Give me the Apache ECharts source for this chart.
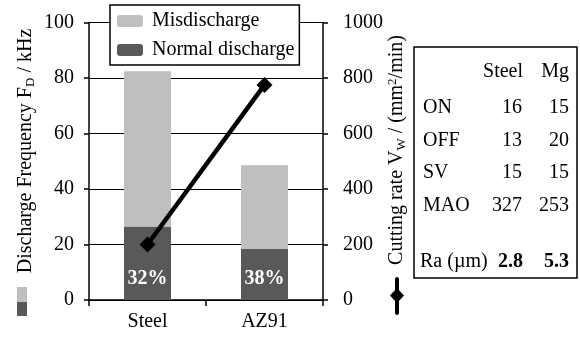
<!DOCTYPE html>
<html>
<head>
<meta charset="utf-8">
<script src="https://cdn.jsdelivr.net/npm/echarts@6/dist/echarts.min.js"></script>
<style>
html,body{margin:0;padding:0;background:#fff;}
#chart{width:580px;height:338px;}
</style>
</head>
<body>
<div id="chart"></div>
<script>
var categories = ['Steel', 'AZ91'];
var normalDischarge = [26.5, 18.4];
var misDischarge = [55.9, 30.2];
var cuttingRate = [200, 775];
var leftTicks = {min: 0, max: 100, interval: 20};
var rightTicks = {min: 0, max: 1000, interval: 200};

// parameter table (right side)
var tableHeader = ['Steel', 'Mg'];
var tableRows = ['ON', 'OFF', 'SV', 'MAO'];
var tableSteel = [16, 13, 15, 327];
var tableMg = [15, 20, 15, 253];
var raSteel = '2.8';
var raMg = '5.3';

var FONT = '"Liberation Serif", "DejaVu Serif", serif';
var FS = 20;
var LIGHT = '#bfbfbf';
var DARK = '#595959';

var myChart = echarts.init(document.getElementById('chart'));

var graphics = [];
// left axis title
graphics.push({
    type: 'text',
    x: 26, y: 151,
    rotation: Math.PI / 2,
    style: {
        text: '{a|Discharge Frequency F}{s|D}{a| / kHz}',
        align: 'center', verticalAlign: 'middle',
        rich: {
            a: {fontFamily: FONT, fontSize: FS, fill: '#000'},
            s: {fontFamily: FONT, fontSize: 13, fill: '#000', padding: [10, 0, 0, 0]}
        }
    }
});
graphics.push({type: 'rect', shape: {x: 17, y: 287, width: 10, height: 15}, style: {fill: LIGHT}});
graphics.push({type: 'rect', shape: {x: 17, y: 302, width: 10, height: 14}, style: {fill: DARK}});

// right axis title
graphics.push({
    type: 'text',
    x: 397, y: 150,
    rotation: Math.PI / 2,
    style: {
        text: '{a|Cutting rate V}{s|W}{a| / (mm}{p|2}{a|/min)}',
        align: 'center', verticalAlign: 'middle',
        rich: {
            a: {fontFamily: FONT, fontSize: FS, fill: '#000'},
            s: {fontFamily: FONT, fontSize: 13, fill: '#000', padding: [10, 0, 0, 0]},
            p: {fontFamily: FONT, fontSize: 13, fill: '#000', padding: [0, 0, 9, 0]}
        }
    }
});
graphics.push({type: 'line', shape: {x1: 397, y1: 279, x2: 397, y2: 313}, style: {stroke: '#000', lineWidth: 4, lineCap: 'round'}});
graphics.push({type: 'polygon', shape: {points: [[397, 288], [404, 295.5], [397, 303], [390, 295.5]]}, style: {fill: '#000'}});

// table box
graphics.push({type: 'rect', shape: {x: 414, y: 47, width: 163, height: 231}, style: {fill: '#fff', stroke: '#000', lineWidth: 1.5}});
var tStyle = function(t, x, y, align, bold){
    return {type: 'text', x: x, y: y, style: {text: t, fontFamily: FONT, fontSize: FS, fontWeight: bold ? 'bold' : 'normal', fill: '#000', align: align, verticalAlign: 'middle'}};
};
graphics.push(tStyle(tableHeader[0], 523, 72, 'right'));
graphics.push(tStyle(tableHeader[1], 569, 72, 'right'));
var rowY = [108, 141, 173, 206];
for (var i = 0; i < tableRows.length; i++) {
    graphics.push(tStyle(tableRows[i], 423, rowY[i], 'left'));
    graphics.push(tStyle(String(tableSteel[i]), 522, rowY[i], 'right'));
    graphics.push(tStyle(String(tableMg[i]), 569, rowY[i], 'right'));
}
graphics.push(tStyle('Ra (\u00b5m)', 420, 262, 'left'));
graphics.push(tStyle(raSteel, 523, 262, 'right', true));
graphics.push(tStyle(raMg, 569, 262, 'right', true));

var axisLine = {show: true, lineStyle: {color: '#000', width: 1.5}};
var axisTick = {show: true, inside: false, length: 5, lineStyle: {color: '#000', width: 1.5}};

myChart.setOption({
    animation: false,
    grid: {left: 89, right: 257, top: 22.5, bottom: 38},
    legend: {
        orient: 'vertical',
        left: 110, top: 5,
        padding: [6, 5, 5, 7],
        itemGap: 9,
        itemWidth: 26, itemHeight: 12,
        backgroundColor: '#fff',
        borderColor: '#000', borderWidth: 1.5, borderRadius: 0,
        data: ['Misdischarge', 'Normal discharge'],
        textStyle: {color: '#000', fontFamily: FONT, fontSize: FS, padding: [0, 0, 0, 4]},
        z: 10
    },
    xAxis: {
        type: 'category',
        data: categories,
        axisLine: axisLine,
        axisTick: {show: true, alignWithLabel: false, length: 6, lineStyle: {color: '#000', width: 1.5}},
        axisLabel: {color: '#000', fontFamily: FONT, fontSize: FS, margin: 12}
    },
    yAxis: [{
        type: 'value',
        min: leftTicks.min, max: leftTicks.max, interval: leftTicks.interval,
        axisLine: axisLine,
        axisTick: axisTick,
        axisLabel: {color: '#000', fontFamily: FONT, fontSize: FS, margin: 15},
        splitLine: {show: true, lineStyle: {color: '#000', width: 1.2}}
    }, {
        type: 'value',
        position: 'right',
        min: rightTicks.min, max: rightTicks.max, interval: rightTicks.interval,
        axisLine: axisLine,
        axisTick: axisTick,
        axisLabel: {color: '#000', fontFamily: FONT, fontSize: FS, margin: 20, formatter: function(v){ return String(v); }},
        splitLine: {show: false}
    }],
    series: [{
        name: 'Normal discharge',
        type: 'bar',
        stack: 'fd',
        barWidth: 47,
        data: normalDischarge,
        itemStyle: {color: DARK},
        label: {
            show: true,
            position: 'insideBottom',
            distance: 11,
            color: '#fff',
            fontFamily: FONT,
            fontSize: FS,
            fontWeight: 'bold',
            formatter: function(p){
                var tot = normalDischarge[p.dataIndex] + misDischarge[p.dataIndex];
                return Math.round(normalDischarge[p.dataIndex] / tot * 100) + '%';
            }
        }
    }, {
        name: 'Misdischarge',
        type: 'bar',
        stack: 'fd',
        barWidth: 47,
        data: misDischarge,
        itemStyle: {color: LIGHT}
    }, {
        name: 'Cutting rate',
        type: 'line',
        yAxisIndex: 1,
        data: cuttingRate,
        z: 5,
        symbol: 'diamond',
        symbolSize: 16,
        lineStyle: {color: '#000', width: 4.5},
        itemStyle: {color: '#000'}
    }],
    graphic: graphics
});
</script>
</body>
</html>
